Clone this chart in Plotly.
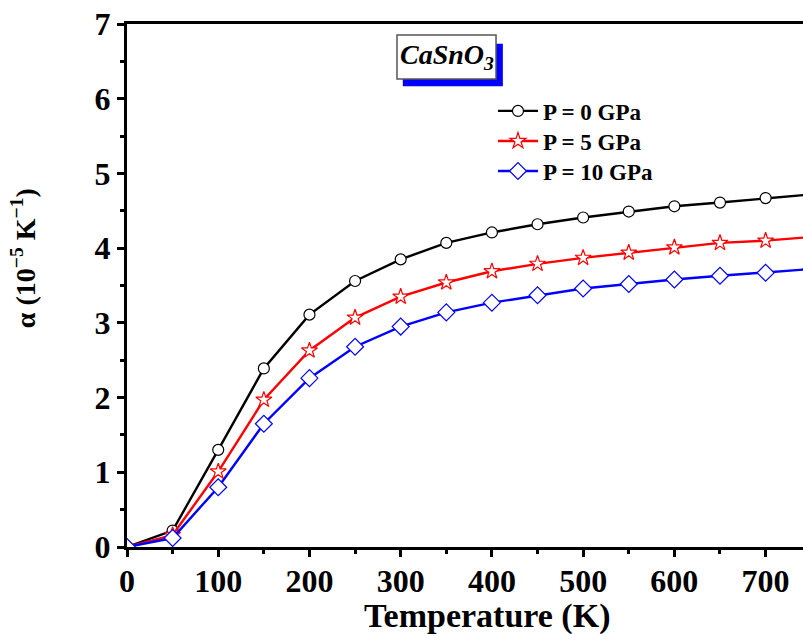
import plotly.graph_objects as go

temperature = [0, 50, 100, 150, 200, 250, 300, 350, 400, 450, 500, 550, 600, 650, 700, 750]
alpha_p0 = [0.0, 0.22, 1.30, 2.39, 3.11, 3.56, 3.85, 4.07, 4.21, 4.32, 4.41, 4.49, 4.56, 4.61, 4.67, 4.72]
alpha_p5 = [0.0, 0.16, 1.01, 1.97, 2.63, 3.07, 3.35, 3.54, 3.69, 3.79, 3.87, 3.94, 4.01, 4.07, 4.10, 4.15]
alpha_p10 = [0.0, 0.12, 0.80, 1.65, 2.26, 2.68, 2.95, 3.14, 3.27, 3.37, 3.46, 3.52, 3.58, 3.63, 3.67, 3.72]
series_names = ["P = 0 GPa", "P = 5 GPa", "P = 10 GPa"]
x_ticks = [0, 100, 200, 300, 400, 500, 600, 700]
y_ticks = [0, 1, 2, 3, 4, 5, 6, 7]

FONT = "Liberation Serif, Times New Roman, serif"

fig = go.Figure()
styles = [
    dict(color="black", symbol="circle", size=11, legend="legend"),
    dict(color="red", symbol="star", size=12, legend="legend2"),
    dict(color="blue", symbol="diamond", size=13, legend="legend3"),
]
for name, ys, st in zip(series_names, [alpha_p0, alpha_p5, alpha_p10], styles):
    fig.add_trace(go.Scatter(
        x=temperature, y=ys, name=name, mode="lines+markers",
        line=dict(color=st["color"], width=2.4),
        marker=dict(symbol=st["symbol"], size=st["size"],
                    color="white", line=dict(color=st["color"], width=1.2)),
        legend=st["legend"],
    ))

axis_common = dict(
    showgrid=False, zeroline=False, showline=True, linecolor="black", linewidth=3,
    ticks="outside", ticklen=7, tickwidth=3, tickcolor="black",
    tickfont=dict(family=FONT, size=32, color="black", weight="bold"),
)

fig.update_xaxes(
    **axis_common, range=[0, 741], tickvals=x_ticks, mirror=True, ticklabelstandoff=-3,
    minor=dict(ticks="outside", ticklen=4, tickwidth=3, tickcolor="black", dtick=50, tick0=0),
)
fig.update_yaxes(
    **axis_common, range=[0, 7], tickvals=y_ticks,
    minor=dict(ticks="outside", ticklen=4, tickwidth=3, tickcolor="black", dtick=0.5, tick0=0),
)

def leg(ypos):
    return dict(
        x=0.5414, y=ypos, xanchor="left", yanchor="middle",
        bgcolor="rgba(0,0,0,0)", borderwidth=0,
        font=dict(family=FONT, size=23, color="black", weight="bold"),
        itemwidth=40,
    )

fig.update_layout(
    width=803, height=634,
    margin=dict(l=127, r=0, t=24, b=87),
    plot_bgcolor="white", paper_bgcolor="white",
    showlegend=True,
    legend=leg(0.8337), legend2=leg(0.7763), legend3=leg(0.7189),
    shapes=[
        dict(type="rect", xref="paper", yref="paper", x0=0.408, x1=0.556, y0=0.881, y1=0.962,
             fillcolor="blue", line=dict(width=0), layer="above"),
        dict(type="rect", xref="paper", yref="paper", x0=0.3994, x1=0.5459, y0=0.895, y1=0.979,
             fillcolor="white", line=dict(color="#555555", width=1.5), layer="above"),
    ],
    annotations=[
        dict(text="<b><i>CaSnO<sub>3</sub></i></b>", xref="paper", yref="paper",
             x=0.4727, y=0.937, xanchor="center", yanchor="middle", showarrow=False,
             font=dict(family=FONT, size=28, color="black")),
        dict(text="<b>α (10<sup>−5</sup> K<sup>−1</sup>)</b>", xref="paper", yref="paper",
             x=-0.152, y=0.5526, xanchor="center", yanchor="middle", showarrow=False,
             textangle=-90, font=dict(family=FONT, size=28, color="black")),
        dict(text="<b>Temperature (K)</b>", xref="paper", yref="paper",
             x=0.5325, y=-0.131, xanchor="center", yanchor="middle", showarrow=False,
             font=dict(family=FONT, size=34, color="black")),
    ],
)

fig.write_html("out.html")
